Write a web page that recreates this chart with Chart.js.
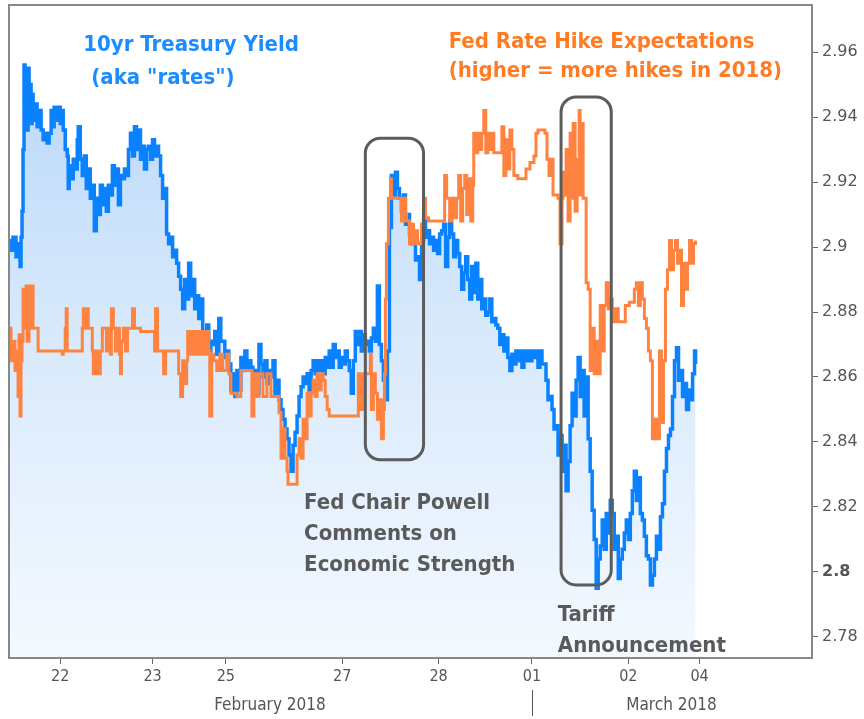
<!DOCTYPE html>
<html>
<head>
<meta charset="utf-8">
<script src="https://cdn.jsdelivr.net/npm/chart.js@4.4.1/dist/chart.umd.min.js"></script>
<style>
html, body { margin: 0; padding: 0; background: #fff; }
canvas { display: block; }
</style>
</head>
<body>
<canvas id="chart" width="864" height="719"></canvas>
<script>
// time axis is in trading hours from the left edge (weekends squeezed out)
const yieldTimes = [0, 0.5, 1, 1.75, 2.25, 2.75, 3, 3.25, 3.5, 3.75, 4, 4.25, 4.5, 4.75, 5, 5.25, 5.5, 5.75, 6,
  6.5, 7, 7.5, 8, 8.5, 9, 9.5, 10, 10.5, 11, 11.25, 11.75, 12.25, 12.75, 13, 13.5, 14, 14.5, 14.75, 15, 15.5, 16, 16.5, 17, 17.25,
  17.75, 18.25, 18.75, 19.25, 19.75, 20.25, 20.75, 21.25, 21.75, 22.25, 22.75, 23.25, 23.75, 24.25, 24.75, 25.25, 25.75,
  26.25, 26.75, 27.25, 27.75, 28.25, 28.75, 29.25, 29.75, 30.25, 30.75, 31.25, 31.75, 32.25, 32.75, 33.25, 33.75, 34.25,
  34.75, 35.25, 35.75, 36.25, 36.75, 37.25, 37.75, 38.25, 38.75, 39.25, 39.75, 40.25, 40.75, 41.25, 41.75, 42.25, 42.75,
  43.25, 43.75, 44.25, 44.75, 45.25, 45.75, 46.25, 46.75, 47.25, 47.75, 48.25, 48.75, 49.25, 49.75, 50.25, 50.75, 51.25,
  51.75, 52.25, 52.75, 53.25, 53.75, 54.25, 54.75, 55.25, 55.75, 56.25, 56.75, 57.25, 57.75, 58.25, 58.75, 59.25, 59.75,
  60.25, 60.75, 61.25, 61.75, 62.25, 62.75, 63.25, 63.75, 64.25, 64.75, 65.25, 65.75, 66.25, 66.75, 67.25, 67.75, 68.25,
  68.75, 69.25, 69.75, 70.25, 70.75, 71.25, 71.75, 72.25, 72.75, 73.25, 73.75, 74.25, 74.75, 75.25, 75.75, 76.25, 76.75,
  77.25, 77.75, 78.25, 78.75, 79.25, 79.75, 80.25, 80.75, 81.25, 81.75, 82.25, 82.75, 83.25, 83.75, 84.25, 84.75, 85.25,
  85.75, 86.25, 86.75, 87.25, 87.75, 88.25, 88.75, 89.25, 89.75, 90.25, 90.75, 91.25, 91.75, 92.25, 92.75, 93.25, 93.75,
  94.25, 94.75, 95.25, 95.75, 96.25, 96.75, 97.25, 97.75, 98.25, 98.75, 99.25, 99.75, 100.25, 100.75, 101.25, 101.75,
  102.25, 102.75, 103.25, 103.75, 104.25, 104.75, 105.25, 105.75, 106.25, 106.75, 107.25, 107.75, 108.25, 108.75, 109.25,
  109.75, 110.25, 110.75, 111.25, 111.75, 112.25, 112.75, 113.25, 113.75, 114.25, 114.75, 115.25, 115.75, 116.25, 116.75,
  117.25, 117.75, 118.25, 118.75, 119.25, 119.75, 120.25, 120.75, 121.25, 121.75, 122.25, 122.75, 123.25, 123.75, 124.25,
  124.75, 125.25, 125.75, 126.25, 126.75, 127.25, 127.75, 128.25, 128.75, 129.25, 129.75, 130.25, 130.75, 131.25, 131.75,
  132.25, 132.75, 133.25, 133.75, 134.25, 134.75, 135.25, 135.75, 136.25, 136.75, 137.25, 137.75, 138.25, 138.75, 139.25,
  139.75, 140.25, 140.75, 141.25, 141.75, 142.25, 142.75, 143.25, 143.75, 144.25, 144.75, 145.25, 145.75, 146.25, 146.75,
  147.25, 147.75, 148.25, 148.75, 149.25, 149.75, 150.25, 150.75, 151.25, 151.75, 152.25, 152.75, 153.25, 153.75, 154.25,
  154.75, 155.25, 155.75, 156.25, 156.75, 157.25, 157.75, 158.25, 158.75, 159.25, 159.75, 160.25, 160.75, 161.25, 161.75,
  162.25, 162.75, 163.25, 163.75, 164.25, 164.75, 165.25, 165.75, 166.25, 166.75, 167.25, 167.75, 168.25, 168.75, 169.25,
  169.75, 170.25, 170.75, 171];
const yieldValues = [2.902, 2.899, 2.903, 2.897, 2.901, 2.894, 2.903, 2.911, 2.930, 2.956, 2.942, 2.951, 2.936, 2.955, 2.945, 2.950, 2.938, 2.947, 2.939,
  2.944, 2.937, 2.942, 2.936, 2.933, 2.935, 2.932, 2.935, 2.942, 2.937, 2.943, 2.939, 2.943, 2.938, 2.942, 2.936, 2.930, 2.928, 2.918, 2.925, 2.921, 2.927, 2.924, 2.933, 2.937,
  2.927, 2.922, 2.928, 2.918, 2.924, 2.915, 2.919, 2.905, 2.915, 2.910, 2.919, 2.913, 2.918, 2.911, 2.919, 2.916, 2.925,
  2.919, 2.924, 2.913, 2.922, 2.921, 2.924, 2.922, 2.930, 2.935, 2.928, 2.937, 2.930, 2.936, 2.927, 2.931, 2.924, 2.930,
  2.931, 2.927, 2.933, 2.928, 2.931, 2.928, 2.922, 2.915, 2.918, 2.904, 2.901, 2.903, 2.897, 2.899, 2.895, 2.891, 2.887,
  2.881, 2.890, 2.884, 2.895, 2.885, 2.890, 2.881, 2.885, 2.878, 2.884, 2.874, 2.873, 2.876, 2.868, 2.871, 2.870, 2.874,
  2.867, 2.878, 2.871, 2.871, 2.866, 2.868, 2.864, 2.856, 2.861, 2.854, 2.862, 2.856, 2.866, 2.862, 2.868, 2.863, 2.865,
  2.863, 2.860, 2.862, 2.855, 2.870, 2.864, 2.860, 2.865, 2.858, 2.862, 2.860, 2.865, 2.855, 2.859, 2.853, 2.850, 2.847,
  2.844, 2.841, 2.836, 2.831, 2.839, 2.843, 2.848, 2.854, 2.857, 2.860, 2.858, 2.861, 2.856, 2.862, 2.865, 2.861, 2.865,
  2.862, 2.865, 2.861, 2.866, 2.863, 2.868, 2.863, 2.870, 2.866, 2.868, 2.863, 2.866, 2.864, 2.868, 2.865, 2.862, 2.855,
  2.865, 2.874, 2.870, 2.874, 2.868, 2.873, 2.870, 2.871, 2.868, 2.872, 2.875, 2.871, 2.888, 2.870, 2.865, 2.859, 2.853,
  2.868, 2.906, 2.922, 2.916, 2.923, 2.918, 2.915, 2.911, 2.916, 2.907, 2.910, 2.904, 2.901, 2.902, 2.896, 2.897,
  2.890, 2.902, 2.908, 2.903, 2.905, 2.901, 2.903, 2.899, 2.902, 2.898, 2.904, 2.905, 2.907, 2.894, 2.903,
  2.908, 2.904, 2.897, 2.902, 2.898, 2.894, 2.887, 2.892, 2.897, 2.890, 2.884, 2.894, 2.886, 2.895, 2.884,
  2.890, 2.881, 2.884, 2.879, 2.880, 2.884, 2.877, 2.878, 2.876, 2.875, 2.870, 2.873, 2.868, 2.872, 2.866,
  2.862, 2.867, 2.864, 2.868, 2.865, 2.868, 2.863, 2.868, 2.865, 2.868, 2.865, 2.868, 2.866, 2.868, 2.863,
  2.868, 2.864, 2.864, 2.859, 2.853, 2.854, 2.850, 2.844, 2.845, 2.836, 2.842, 2.831, 2.839, 2.825, 2.834,
  2.845, 2.855, 2.848, 2.859, 2.866, 2.854, 2.862, 2.848, 2.860, 2.841, 2.831, 2.819, 2.810, 2.795, 2.804,
  2.808, 2.816, 2.807, 2.818, 2.812, 2.822, 2.818, 2.807, 2.811, 2.798, 2.804, 2.807, 2.812, 2.816, 2.810,
  2.818, 2.825, 2.831, 2.822, 2.829, 2.818, 2.816, 2.811, 2.805, 2.804, 2.796, 2.799, 2.804, 2.811, 2.807,
  2.817, 2.821, 2.831, 2.838, 2.842, 2.844, 2.854, 2.865, 2.869, 2.859, 2.862, 2.854, 2.858, 2.850, 2.856,
  2.853, 2.861, 2.868, 2.864];

const hikeTimes = [0, 0.5, 1, 1.5, 2, 2.25, 2.5, 2.75, 3, 3.25, 3.5, 4, 4.25, 4.5, 5, 5.25, 5.5, 5.75, 6, 7.25,
  13.25, 13.5, 14, 14.25, 14.5, 18.25, 18.5, 19.25, 19.5, 19.75, 20.75, 21, 21.5, 22, 22.75, 23.25, 24.25, 24.75,
  25.25, 25.5, 26, 26.5, 27, 27.5, 27.75, 28, 28.5, 29, 29.5, 30.75, 31.25, 32.75, 36.25, 36.5, 37, 38.5, 39,
  42.25, 42.75, 43.25, 43.75, 44.25, 44.5, 44.75, 45.25, 45.75, 46.25, 46.75, 47.25, 47.75, 48.25, 48.75, 49.25,
  49.75, 50, 50.5, 51, 51.75, 52.5, 53.25, 54.25, 54.75, 55.25, 56.75, 57.75, 60.5, 61, 61.75, 62.25, 63.25, 64.25,
  65.25, 67.25, 67.75, 68.25, 68.75, 69.25, 69.5, 71.75, 72.25, 72.75, 73.25, 73.75, 74.25, 74.75, 75.25, 75.75,
  76.25, 76.75, 77.25, 77.75, 78.25, 78.75, 79.25, 79.75, 87, 87.75, 88.25, 90, 90.25, 90.75, 91.25, 91.75, 92.25,
  92.75, 93.25, 93.5, 93.75, 94, 94.5, 95, 95.25, 97.75, 98.25, 98.75, 99, 99.75, 100.25, 100.75, 101.25, 101.75,
  102.75, 103.25, 103.75, 104.5, 108.5, 109, 109.75, 110.25, 110.75, 111.5, 112, 112.5, 113, 113.5, 114, 114.5, 115,
  115.5, 115.75, 116.25, 116.75, 117.25, 117.75, 118.25, 118.75, 119.25, 119.75, 120.25, 120.75, 122.75, 123.25,
  123.75, 124.25, 124.75, 125.25, 125.75, 126.75, 127.75, 128.75, 129.75, 130.75, 131.25, 131.75, 133.5, 134,
  134.5, 135, 135.5, 136.75, 137.25, 137.75, 138, 138.5, 138.75, 139.25, 139.75, 140, 140.5, 141, 141.5, 142,
  142.25, 142.75, 143, 143.75, 144.25, 144.75, 145.25, 145.75, 146.25, 146.75, 147.25, 147.75, 148.25, 148.75,
  149.25, 149.75, 150.25, 151, 151.75, 153.5, 154.5, 155.75, 156.25, 156.75, 157.25, 157.75, 158.25, 158.75,
  159.25, 159.75, 160.25, 161, 161.5, 162, 162.5, 163, 163.5, 164, 164.5, 165, 165.5, 166, 166.5, 167, 167.5,
  168, 168.75, 169, 169.5, 170, 170.5, 171];
const hikeValues = [2.875, 2.865, 2.871, 2.862, 2.868, 2.854, 2.873, 2.848, 2.865, 2.871, 2.887, 2.875, 2.888, 2.871, 2.875, 2.888, 2.875, 2.888, 2.875, 2.868,
  2.867, 2.868, 2.875, 2.881, 2.868, 2.875, 2.881, 2.875, 2.881, 2.875, 2.868, 2.861, 2.868, 2.861, 2.868, 2.875, 2.868, 2.875,
  2.867, 2.881, 2.875, 2.868, 2.875, 2.867, 2.861, 2.871, 2.875, 2.868, 2.875, 2.881, 2.875, 2.874, 2.868, 2.881, 2.868, 2.861, 2.868,
  2.861, 2.854, 2.865, 2.858, 2.865, 2.874, 2.867, 2.874, 2.867, 2.874, 2.867, 2.874, 2.867, 2.874, 2.867, 2.874,
  2.868, 2.848, 2.867, 2.865, 2.862, 2.867, 2.862, 2.867, 2.861, 2.855, 2.854, 2.862, 2.848, 2.861, 2.854, 2.861, 2.854, 2.861,
  2.854, 2.849, 2.835, 2.844, 2.835, 2.831, 2.827, 2.836, 2.841, 2.835, 2.847, 2.841, 2.855, 2.848, 2.855, 2.859,
  2.854, 2.861, 2.856, 2.861, 2.859, 2.854, 2.850, 2.848, 2.861, 2.850, 2.861, 2.867, 2.850, 2.861, 2.855, 2.847, 2.853,
  2.841, 2.850, 2.861, 2.884, 2.901, 2.915, 2.921, 2.915, 2.908, 2.915, 2.910, 2.908, 2.901, 2.907, 2.901, 2.905, 2.901,
  2.907, 2.915, 2.909, 2.908, 2.922, 2.915, 2.908, 2.915, 2.909, 2.915, 2.922, 2.908, 2.918, 2.922, 2.910, 2.921, 2.908,
  2.919, 2.935, 2.929, 2.935, 2.930, 2.935, 2.942, 2.929, 2.935, 2.930, 2.935, 2.929, 2.937, 2.922,
  2.933, 2.924, 2.936, 2.930, 2.922, 2.921, 2.921, 2.924, 2.926, 2.928, 2.935, 2.936, 2.935, 2.927,
  2.922, 2.927, 2.916, 2.915, 2.901, 2.915, 2.923, 2.916, 2.930, 2.908, 2.935, 2.915, 2.938, 2.911, 2.927, 2.942,
  2.916, 2.938, 2.915, 2.889, 2.887, 2.862, 2.875, 2.861, 2.871, 2.861, 2.882, 2.868, 2.882, 2.889,
  2.881, 2.884, 2.877, 2.881, 2.877, 2.882, 2.883, 2.887, 2.889, 2.882, 2.889, 2.884, 2.878, 2.875,
  2.868, 2.865, 2.841, 2.847, 2.841, 2.868, 2.846, 2.865, 2.887, 2.893, 2.902, 2.893, 2.899, 2.902, 2.895, 2.899, 2.882,
  2.895, 2.887, 2.895, 2.902, 2.895, 2.901, 2.902];

const xTickTimes = [12.75, 35.75, 54, 83, 107, 130.25, 154.25, 172];
const xTickLabels = ['22', '23', '25', '27', '28', '01', '02', '04'];
const monthLabels = ['February 2018', 'March 2018'];
const monthCenters = [65, 165];
const monthBreak = 130.25;
const yTicks = [2.78, 2.8, 2.82, 2.84, 2.86, 2.88, 2.9, 2.92, 2.94, 2.96];
const yTickLabels = ['2.78', '2.8', '2.82', '2.84', '2.86', '2.88', '2.9', '2.92', '2.94', '2.96'];
const boldTick = '2.8';
const xMin = 0, xMax = 200;
const yMin = 2.7735, yMax = 2.9745;

// callouts, anchored in data units
const boxes = [
  { t0: 88.75, t1: 103.25, v0: 2.8345, v1: 2.9335 },
  { t0: 137.5, t1: 150, v0: 2.796, v1: 2.9462 }
];
const notes = [
  { t: 18.5, v: 2.962, color: '#1a8cff', lines: ['10yr Treasury Yield'] },
  { t: 20.5, v: 2.952, color: '#1a8cff', lines: ['(aka "rates")'] },
  { t: 109.5, v: 2.963, color: '#ff7c24', lines: ['Fed Rate Hike Expectations'] },
  { t: 109.5, v: 2.954, color: '#ff7c24', lines: ['(higher = more hikes in 2018)'] },
  { t: 73.5, v: 2.821, color: '#5a5a5a', lines: ['Fed Chair Powell', 'Comments on', 'Economic Strength'] },
  { t: 136.7, v: 2.7868, color: '#5a5a5a', lines: ['Tariff', 'Announcement'] }
];

const BLUE = '#0a82ff';
const ORANGE = '#ff8340';
const COND = '"DejaVu Sans Condensed", "DejaVu Sans", sans-serif';

const overlay = {
  id: 'overlay',
  afterDatasetsDraw(chart) {
    const { ctx, chartArea: a, scales: { x, y } } = chart;
    ctx.save();
    ctx.strokeStyle = '#5c5c5c';
    ctx.lineWidth = 3;
    boxes.forEach(b => {
      const l = x.getPixelForValue(b.t0), r = x.getPixelForValue(b.t1);
      const top = y.getPixelForValue(b.v1), bot = y.getPixelForValue(b.v0);
      ctx.beginPath();
      ctx.roundRect(l, top, r - l, bot - top, 15);
      ctx.stroke();
    });
    ctx.font = 'bold 22px ' + COND;
    ctx.textAlign = 'left';
    ctx.textBaseline = 'middle';
    notes.forEach(n => {
      ctx.fillStyle = n.color;
      n.lines.forEach((s, i) => {
        ctx.fillText(s, x.getPixelForValue(n.t), y.getPixelForValue(n.v) + i * 31);
      });
    });
    ctx.strokeStyle = '#888';
    ctx.lineWidth = 2;
    ctx.strokeRect(a.left, a.top, a.right - a.left, a.bottom - a.top);
    ctx.restore();
  },
  afterDraw(chart) {
    const { ctx, chartArea: a, scales: { x } } = chart;
    ctx.save();
    ctx.fillStyle = '#555';
    ctx.font = '17px ' + COND;
    ctx.textAlign = 'center';
    ctx.textBaseline = 'middle';
    monthLabels.forEach((m, i) => ctx.fillText(m, x.getPixelForValue(monthCenters[i]), a.bottom + 48));
    const bx = Math.round(x.getPixelForValue(monthBreak)) + 0.5;
    ctx.strokeStyle = '#555';
    ctx.lineWidth = 1;
    ctx.beginPath();
    ctx.moveTo(bx, a.bottom + 32);
    ctx.lineTo(bx, a.bottom + 58);
    ctx.stroke();
    ctx.restore();
  }
};

new Chart(document.getElementById('chart'), {
  type: 'line',
  data: {
    datasets: [{
      label: 'Fed Rate Hike Expectations',
      data: hikeTimes.map((t, i) => ({ x: t, y: hikeValues[i] })),
      borderColor: ORANGE,
      borderWidth: 3,
      stepped: true,
      pointRadius: 0,
      fill: false
    }, {
      label: '10yr Treasury Yield',
      data: yieldTimes.map((t, i) => ({ x: t, y: yieldValues[i] })),
      borderColor: BLUE,
      borderWidth: 3.5,
      stepped: true,
      pointRadius: 0,
      fill: 'start',
      backgroundColor: (c) => {
        const a = c.chart.chartArea;
        if (!a) return 'rgba(180,214,250,0.6)';
        const g = c.chart.ctx.createLinearGradient(0, a.top, 0, a.bottom);
        g.addColorStop(0, '#b3d5f9');
        g.addColorStop(0.5, '#d8e9fb');
        g.addColorStop(1, '#f4f9ff');
        return g;
      }
    }]
  },
  options: {
    responsive: false,
    animation: false,
    layout: { padding: { left: 9, top: 5 } },
    plugins: { legend: { display: false }, tooltip: { enabled: false } },
    scales: {
      x: {
        type: 'linear',
        min: xMin,
        max: xMax,
        afterBuildTicks: s => { s.ticks = xTickTimes.map(v => ({ value: v })); },
        afterFit: s => { s.height = 61; s.paddingLeft = 0; s.paddingRight = 0; },
        border: { display: false },
        grid: { drawOnChartArea: false, drawTicks: true, tickLength: 6, color: '#666' },
        ticks: {
          autoSkip: false,
          maxRotation: 0,
          padding: 3,
          color: '#555',
          font: { family: COND, size: 16 },
          callback: (v, i) => xTickLabels[i]
        }
      },
      y: {
        position: 'right',
        min: yMin,
        max: yMax,
        afterBuildTicks: s => { s.ticks = yTicks.map(v => ({ value: v })); },
        afterFit: s => { s.width = 52; s.paddingTop = 0; s.paddingBottom = 0; },
        border: { display: false },
        grid: { drawOnChartArea: false, drawTicks: true, tickLength: 6, color: '#666' },
        ticks: {
          padding: 4,
          color: '#555',
          font: c => ({ family: '"DejaVu Sans", sans-serif', size: 16, weight: yTickLabels[c.index] === boldTick ? 'bold' : 'normal' }),
          callback: (v, i) => yTickLabels[i]
        }
      }
    }
  },
  plugins: [overlay]
});
</script>
</body>
</html>
